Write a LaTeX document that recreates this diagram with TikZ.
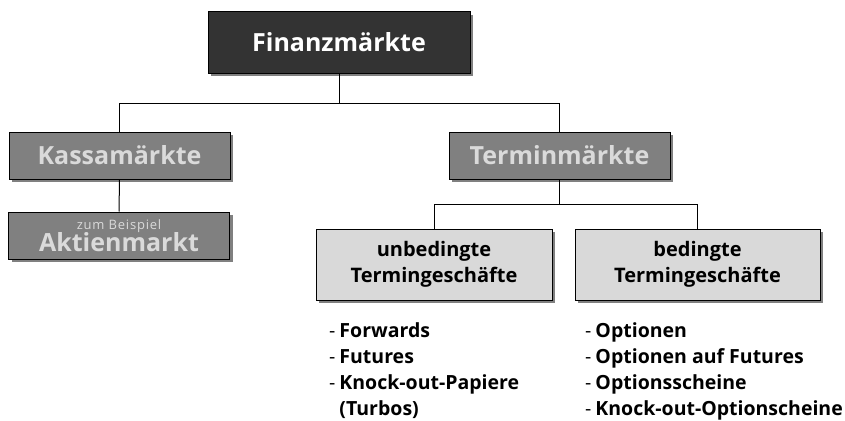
\documentclass[tikz,border=0pt]{standalone}
\usepackage{fontspec}
\setmainfont{Open Sans}
\usepackage{xcolor}
\usetikzlibrary{shadows, positioning}

\definecolor{darkbox}{HTML}{333333}
\definecolor{midbox}{HTML}{808080}
\definecolor{lightbox}{HTML}{D9D9D9}
\definecolor{midtext}{HTML}{DADADA}

\tikzset{
  shadowed/.style={draw=black, line width=1pt,
    drop shadow={shadow xshift=3pt, shadow yshift=-3pt, fill=black!50, opacity=1}},
  topbox/.style={shadowed, fill=darkbox, text=white, minimum width=262pt, minimum height=61pt,
    font=\bfseries\fontsize{25}{30}\selectfont},
  midbox/.style={shadowed, fill=midbox, text=midtext, minimum width=221pt, minimum height=47pt,
    font=\bfseries\fontsize{25}{30}\selectfont},
  subbox/.style={shadowed, fill=lightbox, text=black, minimum height=71pt, align=center,
    font=\bfseries\fontsize{20}{26}\selectfont},
  itemlist/.style={align=left, inner sep=0pt, font=\bfseries\fontsize{19.5}{26}\selectfont},
  tree/.style={line width=1pt}
}
\newcommand{\itemdash}{{\mdseries-}\hspace{4pt}}

\begin{document}
\begin{tikzpicture}[x=1pt, y=-1pt]
  \useasboundingbox (0,0) rectangle (845,420);
  \node[topbox] (F) at (339,42.5) {Finanzmärkte};
  \node[midbox] (K) at (119.5,155.5) {Kassamärkte};
  \node[midbox, align=center] (A) at (119,235.5)
    {{\mdseries\fontsize{13}{14}\selectfont\addfontfeature{LetterSpace=6}zum Beispiel}\\[-8pt]Aktienmarkt};
  \node[midbox] (T) at (559.5,155.5) {Terminmärkte};
  \node[subbox, minimum width=236pt] (U) at (434,264.5) {unbedingte\\Termingeschäfte};
  \node[subbox, minimum width=245pt] (B) at (697.5,264.5) {bedingte\\Termingeschäfte};
  \draw[tree] (F.south) -- ++(0,30) -| (K.north);
  \draw[tree] (F.south) -- ++(0,30) -| (T.north);
  \draw[tree] (K.south) -- (A.north);
  \draw[tree] (T.south) -- ++(0,25) -| (U.north);
  \draw[tree] (T.south) -- ++(0,25) -| (B.north);
  \node[itemlist, anchor=north west] (UL) at (329,322)
    {\itemdash Forwards\\ \itemdash Futures\\ \itemdash Knock-out-Papiere\\ \hphantom{\itemdash}(Turbos)};
  \node[itemlist, anchor=north west] (BL) at (585,322)
    {\itemdash Optionen\\ \itemdash Optionen auf Futures\\ \itemdash Optionsscheine\\ \itemdash Knock-out-Optionscheine};
\end{tikzpicture}
\end{document}
